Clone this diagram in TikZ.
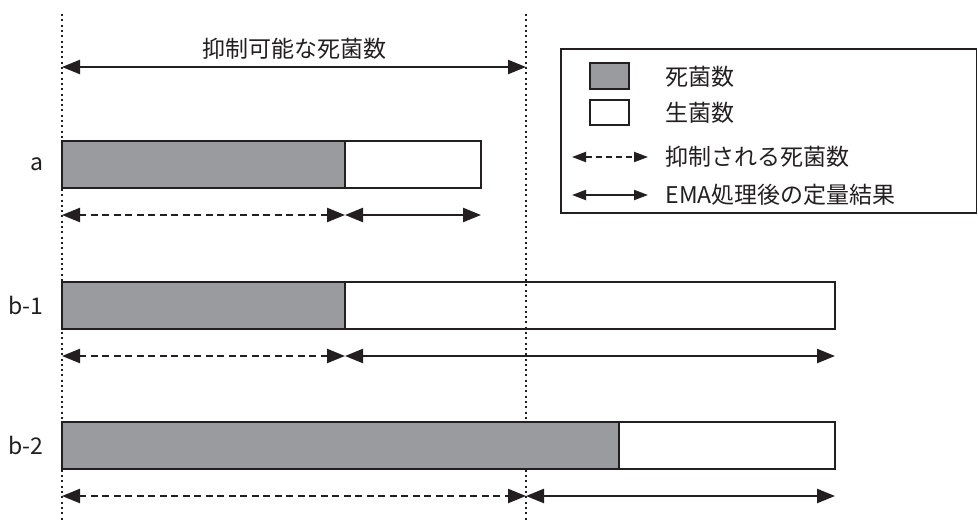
\documentclass[tikz,border=0pt]{standalone}
\usepackage{fontspec}
\setmainfont{Noto Sans CJK JP}
\usepackage{xcolor}
\definecolor{ink}{RGB}{35,31,32}
\definecolor{deadgray}{RGB}{154,155,159}
\usepackage{tikz}
\usetikzlibrary{arrows.meta}
\tikzset{
  barline/.style={draw=ink, line width=2.8pt},
  deadfill/.style={fill=deadgray},
  guide/.style={ink, line width=2pt, dash pattern=on 2pt off 3.3pt},
  solidarrow/.style={ink, line width=2.4pt, {Triangle[length=18pt,width=14pt]}-{Triangle[length=18pt,width=14pt]}},
  dasharrow/.style={solidarrow, dash pattern=on 7pt off 4.5pt},
  keyarrow/.style={ink, line width=2pt, {Triangle[length=14pt,width=10pt]}-{Triangle[length=14pt,width=10pt]}},
  keydash/.style={keyarrow, dash pattern=on 6pt off 4pt}
}

\begin{document}
\begin{tikzpicture}[x=1pt, y=-1pt, line join=miter,
      font=\fontsize{23}{27}\selectfont, text=ink]
      \useasboundingbox (0,0) rectangle (978,520);
      % guide lines
      \coordinate (gl-top) at (62,14);
      \coordinate (gl-bot) at (62,520);
      \coordinate (gr-top) at (526,14);
      \coordinate (gr-bot) at (526,520);
      \draw [guide] (gl-top) -- (gl-bot);
      \draw [guide] (gr-top) -- (gr-bot);
      \coordinate (lim-l) at (62,67);
      \coordinate (lim-r) at (526,67);
      \draw [solidarrow] (lim-l) -- (lim-r);
      \node (lim) at (294,49) {抑制可能な死菌数};
      % bars
      \foreach \lab/\name/\y/\g/\s/\e in {a/a/141/345/345/481, b-1/bi/282/345/345/835, b-2/bii/422/619/526/835}{
        \fill [deadfill] (62,\y) rectangle (\g,\y+47);
        \draw [barline] (62,\y) rectangle (\e,\y+47);
        \draw [barline] (\g,\y) -- (\g,\y+47);
        \node [anchor=east] (lab-\name) at (47,\y+23) {\lab};
        \coordinate (\name-l) at (62,\y+74);
        \coordinate (\name-m) at (\s,\y+74);
        \coordinate (\name-r) at (\e,\y+74);
        \draw [dasharrow] (\name-l) -- (\name-m);
        \draw [solidarrow] (\name-m) -- (\name-r);
      }
      % legend
      \draw [ink, line width=1.5pt] (561,49) rectangle (976.5,213);
      \draw [barline, deadfill] (590,63) rectangle (629,89);
      \draw [barline] (590,100) rectangle (629,125);
      \node [anchor=west] (key-dead) at (662,77) {死菌数};
      \node [anchor=west] (key-live) at (662,113) {生菌数};
      \node [anchor=west] (key-sup) at (662,157) {抑制される死菌数};
      \node [anchor=west] (key-ema) at (662,195) {EMA処理後の定量結果};
      \coordinate (ks-l) at (572,157);
      \coordinate (ks-r) at (648,157);
      \coordinate (ke-l) at (572,195);
      \coordinate (ke-r) at (648,195);
      \draw [keydash] (ks-l) -- (ks-r);
      \draw [keyarrow] (ke-l) -- (ke-r);
\end{tikzpicture}
\end{document}
